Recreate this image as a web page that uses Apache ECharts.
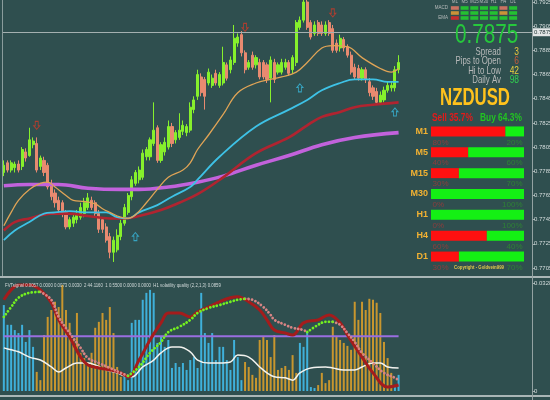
<!DOCTYPE html>
<html><head><meta charset="utf-8">
<script src="https://cdn.jsdelivr.net/npm/echarts@6/dist/echarts.min.js"></script>
<style>html,body{margin:0;padding:0;background:#2f4f4f;}#c{width:550px;height:400px;}</style>
</head><body><div id="c"></div>
<script>
// ---------- DATA ----------
// candles: [open, close, low, high]
const ohlc = [
[0.7784,0.7790,0.7781,0.7794],[0.7792,0.7786,0.7784,0.7794],[0.7786,0.7792,0.7784,0.7794],[0.7788,0.7791,0.7784,0.7793],
[0.7791,0.7786,0.7784,0.7794],[0.7789,0.7803,0.7786,0.7805],[0.7801,0.7796,0.7793,0.7804],[0.7798,0.7811,0.7797,0.7821],
[0.7807,0.7810,0.7804,0.7813],[0.7808,0.7786,0.7784,0.7813],[0.7789,0.7796,0.7786,0.7798],[0.7794,0.7784,0.7781,0.7797],
[0.7790,0.7772,0.7770,0.7792],[0.7775,0.7764,0.7761,0.7778],[0.7767,0.7759,0.7755,0.7770],[0.7761,0.7753,0.7750,0.7764],
[0.7759,0.7750,0.7747,0.7761],[0.7751,0.7739,0.7737,0.7753],[0.7739,0.7745,0.7737,0.7747],[0.7742,0.7747,0.7739,0.7750],
[0.7745,0.7750,0.7742,0.7753],[0.7747,0.7755,0.7745,0.7759],[0.7750,0.7759,0.7747,0.7763],[0.7755,0.7763,0.7753,0.7767],
[0.7761,0.7755,0.7753,0.7764],[0.7759,0.7750,0.7747,0.7761],[0.7750,0.7737,0.7734,0.7753],[0.7745,0.7737,0.7734,0.7747],
[0.7739,0.7728,0.7726,0.7742],[0.7731,0.7718,0.7713,0.7734],[0.7718,0.7728,0.7710,0.7731],[0.7720,0.7732,0.7718,0.7737],
[0.7731,0.7742,0.7728,0.7745],[0.7742,0.7755,0.7740,0.7758],[0.7751,0.7765,0.7749,0.7767],[0.7764,0.7778,0.7761,0.7781],
[0.7775,0.7784,0.7773,0.7786],[0.7778,0.7786,0.7775,0.7789],[0.7780,0.7800,0.7778,0.7803],[0.7797,0.7803,0.7794,0.7805],
[0.7797,0.7811,0.7794,0.7813],[0.7808,0.7819,0.7806,0.7842],[0.7821,0.7794,0.7792,0.7823],[0.7794,0.7807,0.7792,0.7809],
[0.7801,0.7809,0.7798,0.7813],[0.7805,0.7822,0.7803,0.7827],[0.7822,0.7808,0.7805,0.7825],[0.7811,0.7817,0.7808,0.7819],
[0.7813,0.7819,0.7811,0.7833],[0.7818,0.7823,0.7815,0.7827],[0.7817,0.7822,0.7814,0.7824],[0.7819,0.7838,0.7817,0.7842],
[0.7836,0.7844,0.7833,0.7847],[0.7847,0.7865,0.7844,0.7869],[0.7863,0.7850,0.7847,0.7866],[0.7861,0.7847,0.7836,0.7863],
[0.7858,0.7867,0.7856,0.7870],[0.7856,0.7862,0.7854,0.7865],[0.7866,0.7858,0.7856,0.7869],[0.7856,0.7865,0.7854,0.7867],
[0.7858,0.7875,0.7856,0.7888],[0.7873,0.7862,0.7860,0.7875],[0.7869,0.7877,0.7866,0.7880],[0.7875,0.7895,0.7873,0.7906],
[0.7891,0.7896,0.7888,0.7899],[0.7898,0.7883,0.7880,0.7901],[0.7883,0.7869,0.7866,0.7885],[0.7871,0.7875,0.7869,0.7877],
[0.7881,0.7871,0.7869,0.7884],[0.7873,0.7879,0.7870,0.7881],[0.7875,0.7863,0.7861,0.7878],[0.7875,0.7863,0.7861,0.7877],
[0.7873,0.7861,0.7858,0.7875],[0.7862,0.7877,0.7842,0.7880],[0.7875,0.7861,0.7858,0.7878],[0.7867,0.7873,0.7865,0.7875],
[0.7867,0.7875,0.7865,0.7878],[0.7871,0.7875,0.7869,0.7878],[0.7875,0.7866,0.7864,0.7877],[0.7869,0.7879,0.7866,0.7881],
[0.7875,0.7908,0.7872,0.7910],[0.7904,0.7910,0.7902,0.7913],[0.7910,0.7925,0.7908,0.7927],[0.7925,0.7904,0.7902,0.7927],
[0.7908,0.7896,0.7894,0.7910],[0.7899,0.7906,0.7897,0.7909],[0.7908,0.7899,0.7897,0.7910],[0.7906,0.7899,0.7897,0.7909],
[0.7899,0.7906,0.7897,0.7909],[0.7908,0.7899,0.7897,0.7910],[0.7903,0.7885,0.7883,0.7906],[0.7891,0.7885,0.7883,0.7894],
[0.7887,0.7895,0.7884,0.7898],[0.7894,0.7887,0.7884,0.7896],[0.7888,0.7881,0.7879,0.7890],[0.7881,0.7867,0.7865,0.7884],
[0.7871,0.7863,0.7861,0.7874],[0.7870,0.7862,0.7860,0.7873],[0.7862,0.7869,0.7860,0.7871],[0.7869,0.7861,0.7858,0.7871],
[0.7859,0.7850,0.7847,0.7862],[0.7854,0.7847,0.7844,0.7856],[0.7851,0.7842,0.7840,0.7854],[0.7842,0.7848,0.7840,0.7851],
[0.7844,0.7852,0.7842,0.7855],[0.7852,0.7856,0.7850,0.7859],[0.7854,0.7856,0.7851,0.7859],[0.7854,0.7869,0.7851,0.7872],
[0.7869,0.7875,0.7866,0.7881]
];
// moving averages: [candle index, price]
const maFast = [[0,0.7740],[2,0.7751],[4,0.7761],[7,0.7770],[10,0.7775],[12,0.7776],[14,0.7772],[17,0.7765],[19,0.7761],[22,0.7760],[25,0.7758],[27,0.7754],[29,0.7751],[32,0.7747],[34,0.7746],[36,0.7749],[39,0.7759],[42,0.7770],[45,0.7780],[49,0.7786],[51,0.7792],[53,0.7803],[56,0.7815],[60,0.7832],[64,0.7850],[69,0.7858],[73,0.7861],[76,0.7863],[80,0.7867],[83,0.7875],[87,0.7887],[90,0.7889],[94,0.7888],[98,0.7879],[103,0.7870],[106,0.7867],[108,0.7870]];
const maMid = [[0,0.7728],[3,0.7736],[7,0.7743],[11,0.7750],[14,0.7751],[18,0.7752],[23,0.7751],[28,0.7751],[31,0.7747],[34,0.7746],[37,0.7751],[42,0.7757],[46,0.7764],[51,0.7772],[53,0.7778],[59,0.7797],[69,0.7822],[78,0.7836],[83,0.7844],[87,0.7852],[92,0.7858],[96,0.7861],[101,0.7861],[105,0.7859],[108,0.7859]];
const maSlow = [[0,0.7736],[3,0.7743],[7,0.7746],[13,0.7750],[18,0.7750],[23,0.7748],[29,0.7746],[33,0.7746],[37,0.7748],[43,0.7753],[48,0.7759],[53,0.7766],[60,0.7780],[69,0.7800],[78,0.7813],[83,0.7823],[87,0.7830],[92,0.7834],[96,0.7838],[101,0.7840],[108,0.7842]];
const maLong = [[0,0.7773],[7,0.7774],[15,0.7774],[23,0.7771],[32,0.7770],[37,0.7770],[45,0.7772],[53,0.7776],[60,0.7781],[69,0.7790],[78,0.7798],[87,0.7807],[96,0.7813],[108,0.7817]];
const arrowsUp = [[36,0.7731],[81,0.7854],[107,0.7834]];
const arrowsDown = [[9,0.7823],[66,0.7904],[90,0.7916]];

// lower panel: volatility quality histogram (1 = blue / up, 0 = orange / down)
const vqHist = [0.0261,0.0201,0.0201,0.0185,0.0176,0.0201,0.0149,0.0185,0.0134,
0.0058,0.0033,0.0170,0.0225,0.0246,0.0271,0.0255,0.0322,0.0246,0.0207,0.0155,0.0237,0.0116,0.0100,0.0088,0.0116,0.0192,0.0210,0.0237,0.0216,0.0255,0.0176,0.0073,0.0043,
0.0043,0.0033,0.0207,0.0216,0.0216,0.0277,0.0298,0.0307,0.0298,0.0146,0.0164,0.0134,0.0155,0.0070,0.0085,0.0073,0.0085,0.0064,0.0094,0.0103,0.0070,0.0298,0.0176,0.0146,0.0176,0.0094,0.0134,0.0134,0.0094,0.0064,0.0155,0.0103,0.0033,
0.0088,0.0073,0.0049,0.0040,0.0155,0.0164,0.0155,0.0103,
0.0170,0.0064,0.0070,0.0076,0.0064,0.0109,0.0055,
0.0146,0.0134,0.0179,0.0012,0.0009,
0.0018,0.0055,0.0024,0.0033,0.0195,0.0164,0.0155,0.0146,0.0137,0.0125,0.0271,0.0216,0.0271,0.0246,0.0280,0.0277,0.0268,0.0237,0.0149,0.0100,0.0055,
0.0018,0.0049];
const vqDir = [1,1,1,1,1,1,1,1,1,
0,0,0,0,0,0,0,0,0,0,0,0,0,0,0,0,0,0,0,0,0,0,0,0,
1,1,1,1,1,1,1,1,1,1,1,1,1,1,1,1,1,1,1,1,1,1,1,1,1,1,1,1,1,1,1,1,1,
0,0,0,0,0,0,0,0,
0,0,0,0,0,0,0,
1,1,1,1,1,
0,0,0,0,0,0,0,0,0,0,0,0,0,0,0,0,0,0,0,0,0,
1,1];
const vqLevel = 0.0166;
const vqWhite = [[0,0.0131],[2,0.0125],[4,0.0119],[7,0.0103],[10,0.0094],[13,0.0073],[15,0.0058],[17,0.0070],[20,0.0085],[23,0.0085],[25,0.0079],[28,0.0064],[31,0.0055],[34,0.0043],[35,0.0043],[38,0.0073],[41,0.0094],[43,0.0116],[46,0.0134],[48,0.0134],[51,0.0119],[53,0.0094],[56,0.0085],[59,0.0085],[62,0.0088],[64,0.0109],[67,0.0103],[70,0.0073],[72,0.0055],[74,0.0043],[77,0.0040],[79,0.0033],[81,0.0055],[84,0.0070],[88,0.0073],[90,0.0070],[93,0.0064],[96,0.0064],[98,0.0073],[101,0.0085],[103,0.0085],[105,0.0073],[108,0.0070]];
const vqSlow = [[0,0.0277],[2,0.0307],[4,0.0322],[7,0.0322],[10,0.0307],[13,0.0268],[15,0.0216],[18,0.0164],[21,0.0103],[23,0.0079],[26,0.0070],[29,0.0064],[32,0.0055],[34,0.0043],[37,0.0094],[40,0.0155],[43,0.0207],[45,0.0237],[48,0.0237],[51,0.0225],[53,0.0240],[56,0.0255],[59,0.0271],[62,0.0283],[64,0.0286],[67,0.0271],[70,0.0246],[72,0.0216],[74,0.0185],[77,0.0176],[79,0.0170],[82,0.0207],[86,0.0216],[89,0.0231],[92,0.0207],[94,0.0170],[98,0.0103],[101,0.0055],[105,0.0012],[108,0.0018]];
const sigRise = [
 [[0,0.0225],[2,0.0255],[4,0.0283],[7,0.0298],[10,0.0301]],
 [[34,0.0046],[37,0.0073],[40,0.0116],[43,0.0149],[45,0.0179],[48,0.0195],[51,0.0216],[53,0.0237],[56,0.0252],[59,0.0261],[62,0.0271],[64,0.0277],[66,0.0280]],
 [[83,0.0179],[86,0.0201],[88,0.0210],[90,0.0210]]
];
const sigFall = [
 [[10,0.0301],[13,0.0277],[15,0.0225],[18,0.0176],[21,0.0131],[23,0.0100],[26,0.0085],[29,0.0070],[32,0.0055],[34,0.0046]],
 [[66,0.0280],[68,0.0277],[71,0.0255],[73,0.0231],[74,0.0216],[77,0.0201],[79,0.0192],[82,0.0185],[83,0.0179]],
 [[90,0.0210],[92,0.0201],[94,0.0176],[96,0.0149],[98,0.0116],[101,0.0085],[104,0.0055],[107,0.0040],[108,0.0033]]
];
const vqHeader = 'FVTsignal 0.0057 0.0000 0.0073 0.0030  2 44.1160  1 0.5500 0.0000 0.0000  H1 volatility quality (2,2,1,3) 0.0859';

// dashboard
const symbolName = 'NZDUSD';
const timeframes = ['M1','M5','M15','M30','H1','H4','D1'];
const sellPct = [80,40,30,0,0,60,30];
const buyPct = [20,60,70,100,100,40,70];
const sellTotal = 35.7, buyTotal = 64.3;
const signalRows = ['MACD','STR','EMA'];
const macdSig = [-1,1,1,1,1,-1,1];
const strSig = [-1,1,1,1,1,-1,1];
const emaSig = [-1,1,1,1,1,1,1];
const infoLabels = ['Spread','Pips to Open','Hi to Low','Daily Av'];
const infoValues = ['3','6','42','98'];

// ---------- CHART ----------
const FONT = 'Liberation Sans, Arial, sans-serif';
const N_SLOTS = 145;
const slots = Array.from({length: N_SLOTS}, (_, i) => String(i));
const lastPrice = ohlc[ohlc.length - 1][1];
const BLUE = '#3fb0da', ORANGE = '#c8962e';

function txt(x, y, text, color, size, o) {
  o = o || {};
  return {type:'text', x:x, y:y, z:100, silent:true, scaleX:o.sx || 1,
    style:{text:text, fill:color, fontSize:size, fontFamily:FONT, fontWeight:o.bold ? 'bold' : 'normal',
      align:o.align || 'left', verticalAlign:'middle',
      shadowColor:o.shadow || 'transparent', shadowOffsetX:o.shadow ? 1 : 0, shadowOffsetY:o.shadow ? 1 : 0, shadowBlur:0}};
}
function hline(y, x1, x2, color, w) { return {type:'line', z:50, silent:true, shape:{x1:x1, y1:y, x2:x2, y2:y}, style:{stroke:color, lineWidth:w}}; }
function vline(x, y1, y2, color, w) { return {type:'line', z:50, silent:true, shape:{x1:x, y1:y1, x2:x, y2:y2}, style:{stroke:color, lineWidth:w}}; }

const sigRowColors = ['#f07a66','#f0a432','#e82424'];
const sigData = [];
[macdSig, strSig, emaSig].forEach((row, r) => row.forEach((s, c) => {
  sigData.push({value:[c, r], itemStyle:{color: s > 0 ? '#22dd2a' : sigRowColors[r]}});
}));

const series = [
  {type:'candlestick', xAxisIndex:0, yAxisIndex:0, data:ohlc, barWidth:2.6, clip:false,
   itemStyle:{color:'#86f02c', color0:'#e88a70', borderColor:'#86f02c', borderColor0:'#e88a70', borderWidth:1},
   markLine:{silent:true, symbol:['none','none'], animation:false,
     lineStyle:{color:'#a4b0b0', width:1, type:'solid'},
     label:{show:true, position:'end', distance:1, formatter:lastPrice.toFixed(4), backgroundColor:'#e2e6e6', color:'#1c3232', fontSize:6, fontFamily:FONT, padding:[1,1]},
     data:[{yAxis:lastPrice}]}},
  {type:'line', xAxisIndex:0, yAxisIndex:0, data:maLong, smooth:0.4, symbol:'none', lineStyle:{color:'#c262dc', width:3.6}, z:3},
  {type:'line', xAxisIndex:0, yAxisIndex:0, data:maSlow, smooth:0.4, symbol:'none', lineStyle:{color:'#b02430', width:2.6}, z:3},
  {type:'line', xAxisIndex:0, yAxisIndex:0, data:maMid, smooth:0.4, symbol:'none', lineStyle:{color:'#3ec2e6', width:1.8}, z:3},
  {type:'line', xAxisIndex:0, yAxisIndex:0, data:maFast, smooth:0.4, symbol:'none', lineStyle:{color:'#e0a456', width:1.3}, z:3},
  {type:'scatter', xAxisIndex:0, yAxisIndex:0, data:arrowsUp, symbol:'path://M4,0 L8,4 L6,4 L6,9 L2,9 L2,4 L0,4 Z', symbolSize:[6,8],
   itemStyle:{color:'rgba(0,0,0,0)', borderColor:'#38b8dc', borderWidth:1}, z:4},
  {type:'scatter', xAxisIndex:0, yAxisIndex:0, data:arrowsDown, symbol:'path://M4,0 L8,4 L6,4 L6,9 L2,9 L2,4 L0,4 Z', symbolSize:[6,8], symbolRotate:180,
   itemStyle:{color:'rgba(0,0,0,0)', borderColor:'#cc3a28', borderWidth:1}, z:4},
  {type:'bar', xAxisIndex:1, yAxisIndex:1, barWidth:2, z:2,
   data:vqHist.map((v, i) => ({value:v, itemStyle:{color: vqDir[i] ? BLUE : ORANGE}}))},
  {type:'line', xAxisIndex:1, yAxisIndex:1, data:[[0, vqLevel],[ohlc.length - 1, vqLevel]], symbol:'none', lineStyle:{color:'#9a6ee0', width:2}, z:3},
  {type:'line', xAxisIndex:1, yAxisIndex:1, data:vqWhite, smooth:0.4, symbol:'none', lineStyle:{color:'#f2f2ee', width:1.5}, z:4},
  {type:'line', xAxisIndex:1, yAxisIndex:1, data:vqSlow, smooth:0.4, symbol:'none', lineStyle:{color:'#a41c1c', width:3}, z:4}
];
sigFall.forEach(seg => series.push({type:'line', xAxisIndex:1, yAxisIndex:1, data:seg, smooth:0.4, symbol:'none', z:5,
  lineStyle:{color:'#d88484', width:2.8, type:[0.01, 3.5], cap:'round'}}));
sigRise.forEach(seg => series.push({type:'line', xAxisIndex:1, yAxisIndex:1, data:seg, smooth:0.4, symbol:'none', z:5,
  lineStyle:{color:'#74f020', width:2.8, type:[0.01, 3.5], cap:'round'}}));
series.push(
  {type:'bar', xAxisIndex:2, yAxisIndex:2, stack:'tf', data:sellPct, barWidth:10, itemStyle:{color:'#ff1010'}, z:20},
  {type:'bar', xAxisIndex:2, yAxisIndex:2, stack:'tf', data:buyPct, barWidth:10, itemStyle:{color:'#14f014'}, z:20},
  {type:'scatter', xAxisIndex:2, yAxisIndex:2, symbol:'circle', symbolSize:1, clip:false, z:21, silent:true,
   itemStyle:{color:'rgba(0,0,0,0)'},
   data:sellPct.map((v, i) => ({value:[0, i], label:{formatter:v + '%'}})),
   label:{show:true, position:'right', distance:1, offset:[0, 11], color:'#a03a3a', fontSize:8, fontFamily:FONT}},
  {type:'scatter', xAxisIndex:2, yAxisIndex:2, symbol:'circle', symbolSize:1, clip:false, z:21, silent:true,
   itemStyle:{color:'rgba(0,0,0,0)'},
   data:buyPct.map((v, i) => ({value:[100, i], label:{formatter:v + '%'}})),
   label:{show:true, position:'left', distance:1, offset:[0, 11], color:'#2e8e2e', fontSize:8, fontFamily:FONT}},
  {type:'scatter', xAxisIndex:3, yAxisIndex:3, data:sigData, symbol:'rect', symbolSize:[8,3.6], z:20}
);

const infoColors = ['#e8c43c','#c85a3a','#e8d040','#30d050'];
const infoY = [52, 61.5, 71, 80];
const graphics = [
  hline(277, 0, 550, '#a9b6b6', 2),
  hline(396, 0, 550, '#a9b6b6', 2),
  vline(532.5, 0, 400, '#93a2a2', 1),
  vline(2.5, 0, 276, '#8a9c9c', 1),
  txt(5, 285, vqHeader, '#d2dada', 6, {sx:0.72}),
  txt(455, 35, lastPrice.toFixed(4), '#26c83c', 28, {sx:0.74}),
  txt(475, 98.5, symbolName, '#ffc21c', 23, {bold:true, align:'center', sx:0.73, shadow:'#a83212'}),
  txt(432, 118, 'Sell ' + sellTotal.toFixed(1) + '%', '#e41a1a', 11, {bold:true, sx:0.76}),
  txt(480, 118, 'Buy ' + buyTotal.toFixed(1) + '%', '#22c422', 11, {bold:true, sx:0.76}),
  txt(479, 267, 'Copyright - Goldvein999', '#e2c84a', 6, {bold:true, align:'center', sx:0.72})
];
infoLabels.forEach((l, i) => {
  graphics.push(txt(501, infoY[i], l, '#b8baba', 10.5, {align:'right', sx:0.75}));
  graphics.push(txt(519, infoY[i], infoValues[i], infoColors[i], 10.5, {align:'right', sx:0.8}));
});

const axisLbl = {fontSize:6, color:'#d4dcdc', margin:2, fontFamily:FONT};
const option = {
  animation:false,
  backgroundColor:'#2f4f4f',
  grid:[
    {left:2, top:2, width:530, height:266, containLabel:false, outerBoundsMode:'none'},
    {left:2, top:283, width:530, height:108, containLabel:false, outerBoundsMode:'none'},
    {left:431, top:121, width:93, height:146, containLabel:false, outerBoundsMode:'none'},
    {left:450, top:5.5, width:68, height:15, containLabel:false, outerBoundsMode:'none'}
  ],
  xAxis:[
    {gridIndex:0, type:'category', data:slots, show:false},
    {gridIndex:1, type:'category', data:slots, show:false},
    {gridIndex:2, type:'value', min:0, max:100, show:false},
    {gridIndex:3, type:'category', data:timeframes, position:'top', axisLine:{show:false}, axisTick:{show:false},
     axisLabel:{fontSize:4.5, color:'#b8bcbc', margin:1, interval:0, fontFamily:FONT}}
  ],
  yAxis:[
    {gridIndex:0, type:'value', position:'right', min:0.7705, max:0.7925, interval:0.002, splitLine:{show:false},
     axisLine:{show:false}, axisTick:{show:true, length:3, lineStyle:{color:'#a0aeae'}},
     axisLabel:Object.assign({formatter:v => v.toFixed(4)}, axisLbl)},
    {gridIndex:1, type:'value', position:'right', min:0, max:0.0328, interval:0.0328, splitLine:{show:false},
     axisLine:{show:false}, axisTick:{show:true, length:3, lineStyle:{color:'#a0aeae'}},
     axisLabel:Object.assign({formatter:v => v === 0 ? '0' : v.toFixed(4)}, axisLbl)},
    {gridIndex:2, type:'category', data:timeframes, inverse:true, axisLine:{show:false}, axisTick:{show:false},
     axisLabel:{fontSize:9, fontWeight:'bold', color:'#f2b232', margin:3, fontFamily:FONT}},
    {gridIndex:3, type:'category', data:signalRows, inverse:true, axisLine:{show:false}, axisTick:{show:false},
     axisLabel:{fontSize:4.5, color:'#b8bcbc', margin:2, fontFamily:FONT}}
  ],
  series:series,
  graphic:graphics
};
const chart = echarts.init(document.getElementById('c'), null, {renderer:'canvas', width:550, height:400});
chart.setOption(option);
</script>
</body></html>
